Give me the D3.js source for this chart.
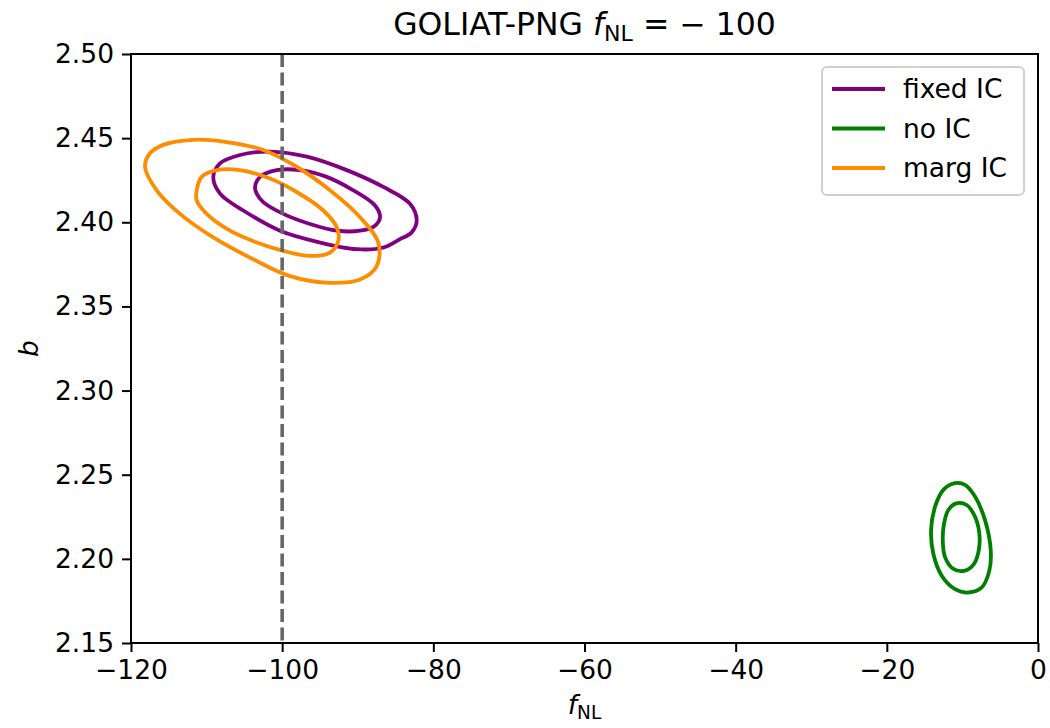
<!DOCTYPE html>
<html><head><meta charset="utf-8">
<script src="https://cdn.jsdelivr.net/npm/d3@7"></script>
<style>body{margin:0;background:#fff}svg{font-family:"DejaVu Sans",sans-serif}</style>
</head><body><svg id="c" width="1050" height="728"></svg>
<script>
const xTicks = [-120, -100, -80, -60, -40, -20, 0];
const yTicks = [2.15, 2.20, 2.25, 2.30, 2.35, 2.40, 2.45, 2.50];
const seriesNames = ["fixed IC", "no IC", "marg IC"];
const seriesColors = ["#800080", "#008000", "#ff8c00"];
const truthFnl = -100;

// contour levels (outer = 2 sigma, inner = 1 sigma), points as [fNL, b]
const fixedOuter = [[-109.11,2.427],[-108.22,2.435],[-105.58,2.440],[-101.61,2.442],[-96.75,2.439],[-91.46,2.431],[-86.62,2.421],[-83.09,2.411],[-82.20,2.401],[-82.86,2.394],[-84.41,2.390],[-86.62,2.385],[-90.14,2.384],[-94.99,2.388],[-100.29,2.395],[-105.14,2.407],[-108.22,2.417]];
const fixedInner = [[-103.59,2.421],[-102.93,2.427],[-100.72,2.431],[-97.64,2.431],[-94.11,2.427],[-90.59,2.419],[-87.72,2.410],[-87.05,2.403],[-87.72,2.398],[-89.70,2.395],[-92.78,2.395],[-96.32,2.399],[-99.85,2.405],[-102.50,2.412],[-103.37,2.417]];
const noOuter = [[-10.98,2.245],[-12.52,2.241],[-13.62,2.231],[-14.15,2.217],[-13.85,2.203],[-12.74,2.190],[-10.98,2.182],[-9.22,2.180],[-7.44,2.183],[-6.44,2.193],[-6.25,2.205],[-7.01,2.223],[-8.33,2.237],[-9.65,2.244]];
const noInner = [[-10.84,2.233],[-11.86,2.229],[-12.43,2.221],[-12.60,2.211],[-12.30,2.201],[-11.20,2.194],[-9.65,2.193],[-8.46,2.197],[-7.84,2.205],[-7.76,2.215],[-8.33,2.225],[-9.43,2.232]];
const margOuter = [[-118.15,2.433],[-117.49,2.441],[-115.73,2.446],[-111.76,2.449],[-107.79,2.448],[-102.50,2.443],[-98.08,2.433],[-93.67,2.419],[-89.70,2.403],[-87.28,2.388],[-87.49,2.374],[-89.70,2.366],[-93.67,2.364],[-98.96,2.368],[-103.82,2.378],[-109.11,2.391],[-113.52,2.405],[-116.60,2.419]];
const margInner = [[-111.31,2.419],[-110.65,2.427],[-108.66,2.431],[-105.58,2.431],[-101.61,2.426],[-98.08,2.418],[-94.56,2.407],[-92.78,2.397],[-92.57,2.389],[-93.67,2.382],[-96.32,2.380],[-99.85,2.383],[-103.37,2.388],[-106.90,2.395],[-109.98,2.405],[-111.31,2.413]];

const contours = [
  {s:0, pts:fixedOuter},{s:0, pts:fixedInner},
  {s:1, pts:noOuter},{s:1, pts:noInner},
  {s:2, pts:margOuter},{s:2, pts:margInner}
];

const svg = d3.select("#c");
const L = 131, R = 1038, T = 54, B = 643;
const x = d3.scaleLinear().domain([-120, 0]).range([L, R]);
const y = d3.scaleLinear().domain([2.15, 2.50]).range([B, T]);
const FS = 26.5;

// contours
const line = d3.line().x(d => x(d[0])).y(d => y(d[1])).curve(d3.curveCatmullRomClosed.alpha(0.5));
svg.append("g").selectAll("path").data(contours).join("path")
  .attr("d", d => line(d.pts))
  .attr("fill", "none")
  .attr("stroke", d => seriesColors[d.s])
  .attr("stroke-width", 3.8)
  .attr("stroke-linejoin", "round");

// truth line
svg.append("line")
  .attr("x1", x(truthFnl)).attr("x2", x(truthFnl))
  .attr("y1", y(2.50)).attr("y2", y(2.15))
  .attr("stroke", "#666").attr("stroke-width", 3.6)
  .attr("stroke-dasharray", "13,5.5");

// axes
const xAxis = d3.axisBottom(x).tickValues(xTicks).tickSize(9).tickPadding(8)
  .tickFormat(d => d < 0 ? "\u2212" + Math.abs(d) : String(d));
const yAxis = d3.axisLeft(y).tickValues(yTicks).tickSize(9).tickPadding(8)
  .tickFormat(d3.format(".2f"));
const gx = svg.append("g").attr("transform", `translate(0,${B})`).call(xAxis);
const gy = svg.append("g").attr("transform", `translate(${L},0)`).call(yAxis);
[gx, gy].forEach(g => {
  g.select(".domain").remove();
  g.selectAll(".tick line").attr("stroke", "#000").attr("stroke-width", 2);
  g.selectAll(".tick text").attr("font-size", FS).attr("fill", "#000")
    .attr("font-family", "DejaVu Sans");
});

// frame
svg.append("rect").attr("x", L).attr("y", T).attr("width", R - L).attr("height", B - T)
  .attr("fill", "none").attr("stroke", "#000").attr("stroke-width", 2);

// title
const title = svg.append("text").attr("x", (L + R) / 2).attr("y", 35)
  .attr("text-anchor", "middle").attr("font-size", 31.5).attr("fill", "#000");
title.append("tspan").text("GOLIAT-PNG ");
title.append("tspan").attr("font-style", "italic").text("f");
title.append("tspan").attr("font-size", 31.5 * 0.7).attr("dy", 6).text("NL");
title.append("tspan").attr("dy", -6).text(" = \u2212 100");

// x label
const xl = svg.append("text").attr("x", (L + R) / 2).attr("y", 714)
  .attr("text-anchor", "middle").attr("font-size", FS).attr("fill", "#000");
xl.append("tspan").attr("font-style", "italic").text("f");
xl.append("tspan").attr("font-size", FS * 0.7).attr("dy", 5).text("NL");

// y label
svg.append("text").attr("transform", `translate(38,${(T + B) / 2}) rotate(-90)`)
  .attr("text-anchor", "middle").attr("font-size", FS).attr("font-style", "italic")
  .attr("fill", "#000").text("b");

// legend
const lg = svg.append("g");
lg.append("rect").attr("x", 822).attr("y", 67).attr("width", 202).attr("height", 128)
  .attr("rx", 5).attr("fill", "#fff").attr("fill-opacity", 0.8)
  .attr("stroke", "#d0d0d0").attr("stroke-width", 2);
const items = lg.selectAll("g.it").data(seriesNames).join("g").attr("class", "it")
  .attr("transform", (d, i) => `translate(0,${89 + i * 39.5})`);
items.append("line").attr("x1", 832).attr("x2", 885)
  .attr("stroke", (d, i) => seriesColors[i]).attr("stroke-width", 3.8);
items.append("text").attr("x", 903).attr("y", 0).attr("dy", "0.35em")
  .attr("font-size", FS).attr("fill", "#000").text(d => d);
</script></body></html>
